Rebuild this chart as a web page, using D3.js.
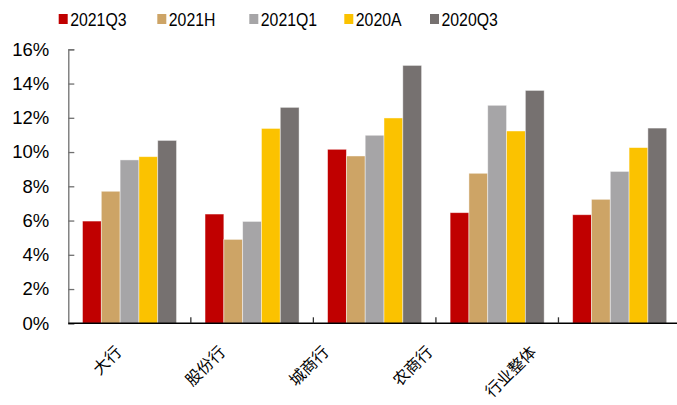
<!DOCTYPE html>
<html>
<head>
<meta charset="utf-8">
<script src="https://cdn.jsdelivr.net/npm/d3@7"></script>
<style>
  html, body { margin: 0; padding: 0; background: #fff; }
  svg { display: block; }
</style>
</head>
<body>
<svg id="chart" width="677" height="405"></svg>
<script>
// Bank groups and reporting periods
const categories = ["大行", "股份行", "城商行", "农商行", "行业整体"];
const seriesNames = ["2021Q3", "2021H", "2021Q1", "2020A", "2020Q3"];
const seriesColors = ["#C00000", "#CDA466", "#A6A5A7", "#FBC200", "#767170"];

// Values in percent, one array per period (order follows categories)
const v2021Q3 = [5.97, 6.38, 10.16, 6.46, 6.34];
const v2021H  = [7.71, 4.90, 9.77, 8.76, 7.24];
const v2021Q1 = [9.54, 5.95, 10.98, 12.73, 8.87];
const v2020A  = [9.73, 11.38, 11.99, 11.23, 10.26];
const v2020Q3 = [10.68, 12.61, 15.06, 13.60, 11.40];

const yTicks = [0, 2, 4, 6, 8, 10, 12, 14, 16];

const seriesValues = [v2021Q3, v2021H, v2021Q1, v2020A, v2020Q3];

const svg = d3.select("#chart");
const numFont = "'Liberation Sans', Arial, sans-serif";
const cjkFont = "'Noto Sans CJK SC', sans-serif";

const plotLeft = 68.3, plotBottom = 323.3, plotTop = 49.3;

const x0 = d3.scaleBand().domain(categories).range([plotLeft, 681]).paddingInner(0).paddingOuter(0);
const x1 = d3.scaleBand().domain(seriesNames).range([14.2, x0.bandwidth() - 14.3]).padding(0);
const y = d3.scaleLinear().domain([0, 16]).range([plotBottom, plotTop]);

// Y axis: ticks point inward
const yAxis = d3.axisLeft(y).tickValues(yTicks).tickSize(-6).tickSizeOuter(-6)
  .tickFormat(d => d + "%");
const gy = svg.append("g").attr("transform", `translate(${plotLeft},0)`).call(yAxis);
gy.select(".domain").attr("stroke", "#707070").attr("stroke-width", 1.3);
gy.selectAll(".tick line").attr("stroke", "#707070").attr("stroke-width", 1.3);
gy.selectAll(".tick text")
  .attr("x", -19)
  .attr("font-family", numFont)
  .attr("font-size", 18.5)
  .attr("fill", "#000");

// Bars
const groups = svg.append("g").selectAll("g")
  .data(categories)
  .join("g")
  .attr("transform", d => `translate(${x0(d)},0)`);

groups.selectAll("rect")
  .data((c, ci) => seriesNames.map((s, si) => ({ s, si, v: seriesValues[si][ci] })))
  .join("rect")
  .attr("x", d => x1(d.s))
  .attr("width", x1.bandwidth())
  .attr("y", d => y(d.v))
  .attr("height", d => y(0) - y(d.v))
  .attr("fill", d => seriesColors[d.si])
  .attr("stroke", "#fff")
  .attr("stroke-opacity", 0.55)
  .attr("stroke-width", 0.8);

// X axis line with boundary ticks pointing up
const gx = svg.append("g");
gx.append("line")
  .attr("x1", plotLeft).attr("x2", 681)
  .attr("y1", plotBottom).attr("y2", plotBottom)
  .attr("stroke", "#000").attr("stroke-width", 1.5);
gx.selectAll("line.bt")
  .data(categories.slice(1))
  .join("line")
  .attr("class", "bt")
  .attr("x1", d => x0(d)).attr("x2", d => x0(d))
  .attr("y1", plotBottom).attr("y2", plotBottom - 6)
  .attr("stroke", "#333").attr("stroke-width", 1.3);

// Rotated category labels
const xl = d3.scalePoint().domain(categories).range([122.5, 122.5 + 4 * 103.7]);
svg.append("g").selectAll("text")
  .data(categories)
  .join("text")
  .attr("transform", d => `translate(${xl(d)},353) rotate(-45)`)
  .attr("text-anchor", "end")
  .attr("font-family", cjkFont)
  .attr("font-size", 16)
  .attr("fill", "#000")
  .text(d => d);

// Legend (slightly condensed text)
const legendSquares = [58.7, 157.3, 249.3, 344.3, 430];
const legend = svg.append("g").selectAll("g")
  .data(seriesNames)
  .join("g")
  .attr("transform", (d, i) => `translate(${legendSquares[i]},14)`);
legend.append("rect")
  .attr("width", 9).attr("height", 10)
  .attr("fill", (d, i) => seriesColors[i]);
legend.append("text")
  .attr("transform", "translate(11.5,12) scale(0.88,1)")
  .attr("font-family", numFont)
  .attr("font-size", 18)
  .attr("fill", "#000")
  .text(d => d);
</script>
</body>
</html>
